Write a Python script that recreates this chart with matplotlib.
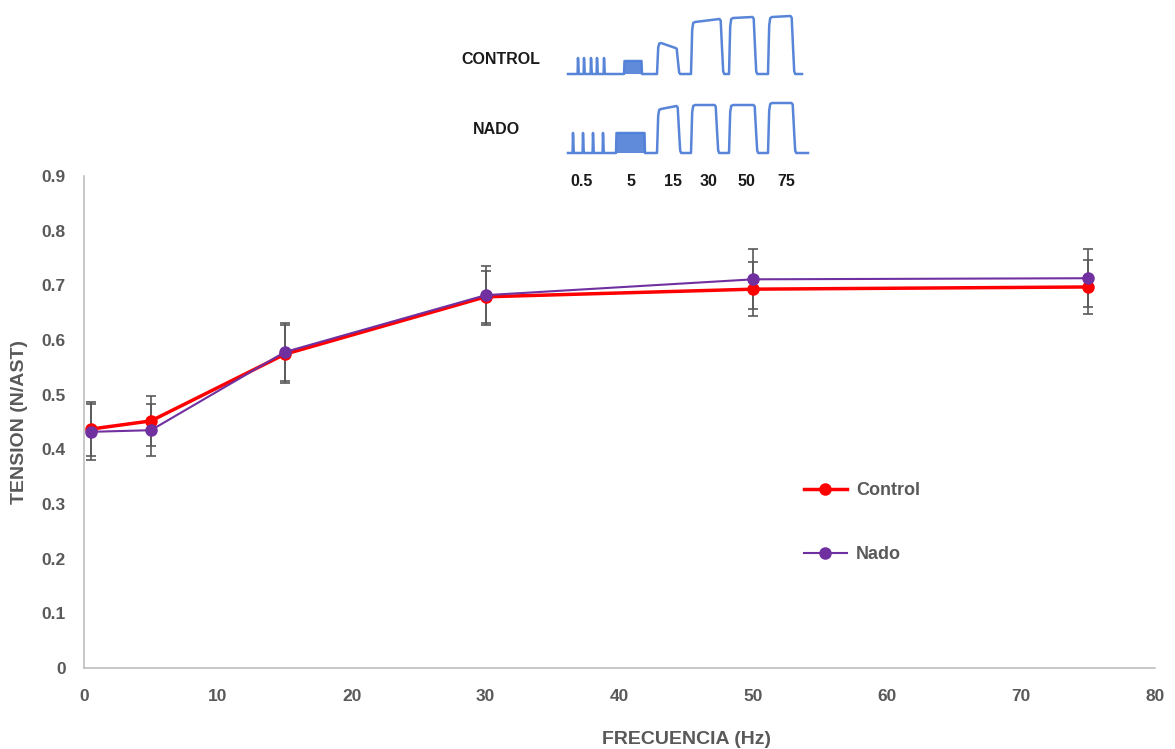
import matplotlib.pyplot as plt

# main data
freq = [0.5, 5, 15, 30, 50, 75]
control = [0.437, 0.452, 0.574, 0.679, 0.693, 0.697]
control_err = [0.049, 0.046, 0.053, 0.047, 0.049, 0.049]
nado = [0.432, 0.435, 0.578, 0.682, 0.711, 0.713]
nado_err = [0.051, 0.048, 0.053, 0.054, 0.055, 0.053]

xticks = [0, 10, 20, 30, 40, 50, 60, 70, 80]
yticks = [0, 0.1, 0.2, 0.3, 0.4, 0.5, 0.6, 0.7, 0.8, 0.9]
ytick_labels = ['0', '0.1', '0.2', '0.3', '0.4', '0.5', '0.6', '0.7', '0.8', '0.9']

# inset traces (schematic, trace units)
trace_freq_labels = ['0.5', '5', '15', '30', '50', '75']
trace_label_x = [22, 71, 113, 149, 186, 226]

ctrl_base = 86
ctrl_span = (8, 242)
ctrl_twitch_x = [18, 24, 31, 37, 44]
ctrl_twitch_amp = 16
ctrl_block = (64, 82, 13)
ctrl_tetanus_on = [97, 131, 169, 208]
ctrl_tetanus_off = [117, 161, 194, 232]
ctrl_amp_start = [31, 52, 56, 57]
ctrl_amp_end = [26, 55, 57, 58]

nado_base = 7
nado_span = (8, 248)
nado_twitch_x = [13, 23, 33, 43]
nado_twitch_amp = 20
nado_block = (56, 85, 20)
nado_tetanus_on = [97, 131, 169, 208]
nado_tetanus_off = [118, 156, 195, 233]
nado_amp_start = [44, 48, 48, 50]
nado_amp_end = [47, 48, 48, 50]

GREY = '#595959'
TRACE = '#4F7FD6'
FONT = 'Liberation Sans'

plt.rcParams['font.family'] = [FONT, 'DejaVu Sans']

fig = plt.figure(figsize=(11.75, 7.49), dpi=100)
ax = fig.add_axes([84 / 1175, 81 / 749, 1071 / 1175, 492 / 749])

ax.errorbar(freq, control, yerr=control_err, fmt='none', ecolor=GREY,
            elinewidth=1.2, capsize=3.5, capthick=1.2, zorder=2)
ax.errorbar(freq, nado, yerr=nado_err, fmt='none', ecolor=GREY,
            elinewidth=1.2, capsize=3.5, capthick=1.2, zorder=2)
ax.plot(freq, control, color='#FF0000', lw=2.5, marker='o', ms=8,
        label='Control', zorder=3)
ax.plot(freq, nado, color='#7030A0', lw=1.5, marker='o', ms=8,
        label='Nado', zorder=4)

ax.set_xlim(0, 80)
ax.set_ylim(0, 0.9)
ax.set_xticks(xticks)
ax.set_yticks(yticks)
ax.set_yticklabels(ytick_labels)
ax.tick_params(length=0, colors=GREY, labelsize=12.5)
ax.tick_params(axis='y', pad=13)
ax.tick_params(axis='x', pad=15)
for lab in ax.get_xticklabels() + ax.get_yticklabels():
    lab.set_fontweight('bold')
for s in ['top', 'right']:
    ax.spines[s].set_visible(False)
for s in ['left', 'bottom']:
    ax.spines[s].set_color('#BFBFBF')
    ax.spines[s].set_linewidth(1.2)

ax.set_ylabel('TENSION (N/AST)', fontsize=14, fontweight='bold', color=GREY)
ax.yaxis.set_label_coords((28 - 84) / 1071, 0.5)
fig.text(687 / 1175, 1 - 740 / 749, 'FRECUENCIA (Hz)', fontsize=14,
         fontweight='bold', color=GREY, ha='center', va='center')

leg = ax.legend(loc='upper left', bbox_to_anchor=(0.672, 0.378), frameon=False,
                borderpad=0, borderaxespad=0, handlelength=2.4,
                handletextpad=0.5, labelspacing=2.6,
                prop={'weight': 'bold', 'size': 13})
for t in leg.get_texts():
    t.set_color(GREY)

# inset with raw traces
ins = fig.add_axes([560 / 1175, 1 - 160 / 749, 255 / 1175, 150 / 749])
ins.set_xlim(0, 255)
ins.set_ylim(0, 150)
ins.axis('off')


def draw_trace(base, span, tw_x, tw_amp, block, on, off, a0s, a1s):
    xs = [span[0]]
    ys = [base]
    for x in tw_x:
        xs += [x - 0.4, x, x + 0.8]
        ys += [base, base + tw_amp, base]
    b0, b1, bamp = block
    xs += [b0, b0 + 0.5, b1 - 0.5, b1]
    ys += [base, base + bamp, base + bamp, base]
    ins.fill_between([b0 + 0.5, b1 - 0.5], base, base + bamp, color=TRACE,
                     alpha=0.9, lw=0)
    for x0, x1, a0, a1 in zip(on, off, a0s, a1s):
        xs += [x0, x0 + 1.2, x0 + 2.2, x0 + 4, x1 - 1.5, x1 - 0.3, x1 + 1.2,
               x1 + 2.2, x1 + 3.2]
        ys += [base, base + a0 * 0.85, base + a0 * 0.98, base + a0,
               base + a1, base + a1 * 0.97, base + a1 * 0.4, base + a1 * 0.05,
               base]
    xs.append(span[1])
    ys.append(base)
    ins.plot(xs, ys, color=TRACE, lw=1.8, solid_joinstyle='round', alpha=0.95)


draw_trace(ctrl_base, ctrl_span, ctrl_twitch_x, ctrl_twitch_amp, ctrl_block,
           ctrl_tetanus_on, ctrl_tetanus_off, ctrl_amp_start, ctrl_amp_end)
draw_trace(nado_base, nado_span, nado_twitch_x, nado_twitch_amp, nado_block,
           nado_tetanus_on, nado_tetanus_off, nado_amp_start, nado_amp_end)

fig.text(501 / 1175, 1 - 59 / 749, 'CONTROL', fontsize=11.5, fontweight='bold',
         color='#1a1a1a', ha='center', va='center')
fig.text(496 / 1175, 1 - 129 / 749, 'NADO', fontsize=11.5, fontweight='bold',
         color='#1a1a1a', ha='center', va='center')
for lx, lt in zip(trace_label_x, trace_freq_labels):
    fig.text((560 + lx) / 1175, 1 - 182 / 749, lt, fontsize=11.5,
             fontweight='bold', color='#1a1a1a', ha='center', va='center')

fig.savefig('out.png', dpi=100)
